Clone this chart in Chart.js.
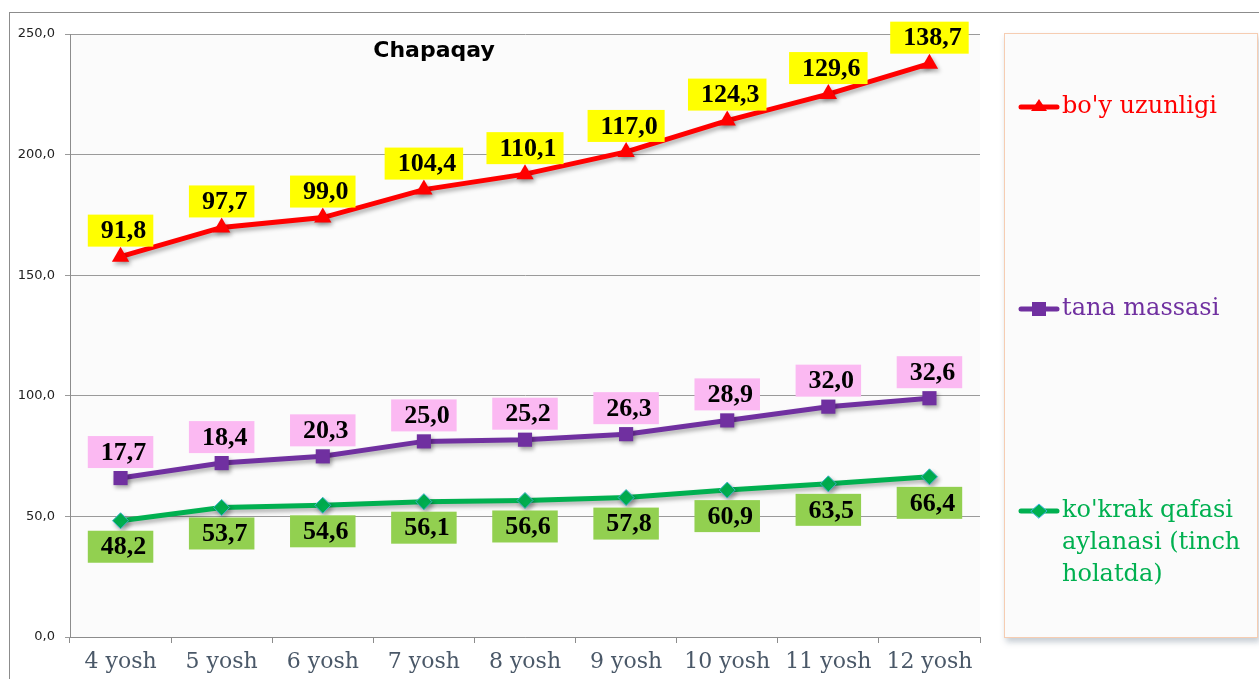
<!DOCTYPE html>
<html>
<head>
<meta charset="utf-8">
<script src="https://cdn.jsdelivr.net/npm/chart.js@4.4.1/dist/chart.umd.min.js"></script>
<style>
  html, body { margin: 0; padding: 0; background: #fff; }
  #wrap { position: relative; width: 1259px; height: 679px; overflow: hidden; }
  #frame { position: absolute; left: 9px; top: 12px; width: 1300px; height: 700px;
    border-top: 1px solid #8c8c8c; border-left: 1px solid #8c8c8c; }
  #chart { position: absolute; left: 0; top: 0; }
</style>
</head>
<body>
<div id="wrap">
  <div id="frame"></div>
  <canvas id="chart" width="1259" height="679"></canvas>
</div>
<script>
'use strict';

const chartTitle = 'Chapaqay';
const ages = ['4 yosh', '5 yosh', '6 yosh', '7 yosh', '8 yosh', '9 yosh', '10 yosh', '11 yosh', '12 yosh'];
const boyUzunligi = [91.8, 97.7, 99.0, 104.4, 110.1, 117.0, 124.3, 129.6, 138.7];
const tanaMassasi = [17.7, 18.4, 20.3, 25.0, 25.2, 26.3, 28.9, 32.0, 32.6];
const kokrakQafasi = [48.2, 53.7, 54.6, 56.1, 56.6, 57.8, 60.9, 63.5, 66.4];
const yTicks = [0, 50, 100, 150, 200, 250];

function fmt(v) {
  return v.toFixed(1).replace('.', ',');
}

// draw the small marker used in the legend
function drawMarker(ctx, style, x, y, color, border) {
  ctx.beginPath();
  if (style === 'triangle') {
    ctx.moveTo(x, y - 8);
    ctx.lineTo(x + 8, y + 4);
    ctx.lineTo(x - 8, y + 4);
  } else if (style === 'rect') {
    ctx.rect(x - 7, y - 7, 14, 14);
  } else {
    ctx.moveTo(x - 8, y);
    ctx.lineTo(x, y - 7);
    ctx.lineTo(x + 8, y);
    ctx.lineTo(x, y + 7);
  }
  ctx.closePath();
  ctx.fillStyle = color;
  ctx.fill();
  if (border) {
    ctx.lineWidth = 1;
    ctx.strokeStyle = border;
    ctx.stroke();
  }
}

const backgroundPlugin = {
  id: 'background',
  beforeDraw(chart) {
    const ctx = chart.ctx;
    const a = chart.chartArea;
    ctx.save();
    ctx.fillStyle = '#fbfbfb';
    ctx.fillRect(a.left, a.top, a.right - a.left, a.bottom - a.top);

    // legend box
    ctx.shadowColor = 'rgba(90, 110, 130, 0.35)';
    ctx.shadowBlur = 6;
    ctx.shadowOffsetX = 2;
    ctx.shadowOffsetY = 4;
    ctx.fillStyle = '#fbfbfb';
    ctx.fillRect(1004, 33, 254, 605);
    ctx.shadowColor = 'transparent';
    ctx.strokeStyle = '#f6cdb2';
    ctx.lineWidth = 1;
    ctx.strokeRect(1004.5, 33.5, 253, 604);
    ctx.restore();
  },
};

const shadowPlugin = {
  id: 'lineShadow',
  beforeDatasetDraw(chart) {
    const ctx = chart.ctx;
    ctx.save();
    ctx.shadowColor = 'rgba(0, 0, 0, 0.3)';
    ctx.shadowBlur = 4;
    ctx.shadowOffsetX = 2;
    ctx.shadowOffsetY = 3;
  },
  afterDatasetDraw(chart) {
    chart.ctx.restore();
  },
};

const labelsPlugin = {
  id: 'valueLabels',
  afterDatasetsDraw(chart) {
    const ctx = chart.ctx;
    ctx.save();
    ctx.font = 'bold 26px "Liberation Serif", "Times New Roman", serif';
    ctx.textAlign = 'center';
    ctx.textBaseline = 'middle';
    chart.data.datasets.forEach((ds, i) => {
      const meta = chart.getDatasetMeta(i);
      meta.data.forEach((pt, j) => {
        const text = fmt(ds.data[j]);
        const w = ctx.measureText(text).width + 20;
        const h = 32;
        const top = ds.labelPos === 'below' ? pt.y + 10 : pt.y - 10 - h;
        ctx.fillStyle = ds.labelBg;
        ctx.fillRect(pt.x - w / 2, top, w, h);
        ctx.fillStyle = '#000';
        ctx.fillText(text, pt.x + 3, top + h / 2 + 1);
      });
    });
    ctx.restore();
  },
};

const titleLegendPlugin = {
  id: 'titleLegend',
  afterDraw(chart) {
    const ctx = chart.ctx;
    ctx.save();
    ctx.font = 'bold 22px "DejaVu Sans", Verdana, sans-serif';
    ctx.fillStyle = '#000';
    ctx.textAlign = 'center';
    ctx.textBaseline = 'middle';
    ctx.fillText(chartTitle, 434, 51);

    // legend, top series first
    const items = chart.data.datasets.slice().reverse();
    let y = 107;
    ctx.font = '24px "DejaVu Serif", Cambria, serif';
    ctx.textAlign = 'left';
    items.forEach((ds) => {
      ctx.strokeStyle = ds.borderColor;
      ctx.lineWidth = 5;
      ctx.lineCap = 'round';
      ctx.beginPath();
      ctx.moveTo(1021, y);
      ctx.lineTo(1057, y);
      ctx.stroke();
      drawMarker(ctx, ds.pointStyle, 1039, y, ds.pointBackgroundColor, ds.legendMarkerBorder);

      // wrap long labels
      const words = ds.label.split(' ');
      const lines = [];
      let line = '';
      words.forEach((word) => {
        const test = line ? line + ' ' + word : word;
        if (ctx.measureText(test).width > 196 && line) {
          lines.push(line);
          line = word;
        } else {
          line = test;
        }
      });
      lines.push(line);
      ctx.fillStyle = ds.borderColor;
      lines.forEach((l, k) => {
        ctx.fillText(l, 1062, y + k * 32);
      });
      y += 202;
    });
    ctx.restore();
  },
};

const chartData = {
  labels: ages,
  datasets: [
    {
      label: "ko'krak qafasi aylanasi (tinch holatda)",
      data: kokrakQafasi,
      borderColor: '#00b050',
      borderWidth: 5,
      pointStyle: 'rectRot',
      pointRadius: 8,
      pointBackgroundColor: '#00b050',
      pointBorderColor: '#3cb4c8',
      pointBorderWidth: 1,
      legendMarkerBorder: '#3cb4e0',
      labelBg: '#92d050',
      labelPos: 'below',
    },
    {
      label: 'tana massasi',
      data: tanaMassasi,
      borderColor: '#7030a0',
      borderWidth: 5,
      pointStyle: 'rect',
      pointRadius: 10,
      pointBackgroundColor: '#7030a0',
      pointBorderColor: '#7030a0',
      pointBorderWidth: 0,
      labelBg: '#fbb9f2',
      labelPos: 'above',
    },
    {
      label: "bo'y uzunligi",
      data: boyUzunligi,
      borderColor: '#ff0000',
      borderWidth: 5,
      pointStyle: 'triangle',
      pointRadius: 10,
      pointBackgroundColor: '#ff0000',
      pointBorderColor: '#ff0000',
      pointBorderWidth: 0,
      labelBg: '#ffff00',
      labelPos: 'above',
    },
  ],
};

const options = {
  responsive: false,
  animation: false,
  layout: {
    padding: { left: 0, top: 34, right: 279, bottom: 0 },
  },
  plugins: {
    legend: { display: false },
    tooltip: { enabled: false },
    title: { display: false },
  },
  scales: {
    x: {
      offset: true,
      grid: {
        offset: true,
        drawOnChartArea: false,
        drawTicks: true,
        tickLength: 6,
        color: '#8c8c8c',
      },
      border: { display: true, color: '#8c8c8c' },
      ticks: {
        autoSkip: false,
        maxRotation: 0,
        padding: 6,
        color: '#4a5868',
        font: { family: '"DejaVu Serif", Cambria, serif', size: 22 },
      },
      afterFit: function (scale) {
        scale.height = 42;
      },
    },
    y: {
      stacked: true,
      min: 0,
      max: 250,
      grid: {
        color: '#9a9a9a',
        tickLength: 5,
      },
      border: { display: true, color: '#8c8c8c' },
      ticks: {
        padding: 10,
        color: '#222',
        font: { family: '"DejaVu Sans", Verdana, sans-serif', size: 13 },
        callback: function (value) {
          return fmt(value);
        },
      },
      afterBuildTicks: function (scale) {
        scale.ticks = yTicks.map((v) => ({ value: v }));
      },
      afterFit: function (scale) {
        scale.width = 70;
      },
    },
  },
};

const config = {
  type: 'line',
  data: chartData,
  options: options,
  plugins: [backgroundPlugin, shadowPlugin, labelsPlugin, titleLegendPlugin],
};

const ctx = document.getElementById('chart');
let myChart = new Chart(ctx, config);
</script>
</body>
</html>
